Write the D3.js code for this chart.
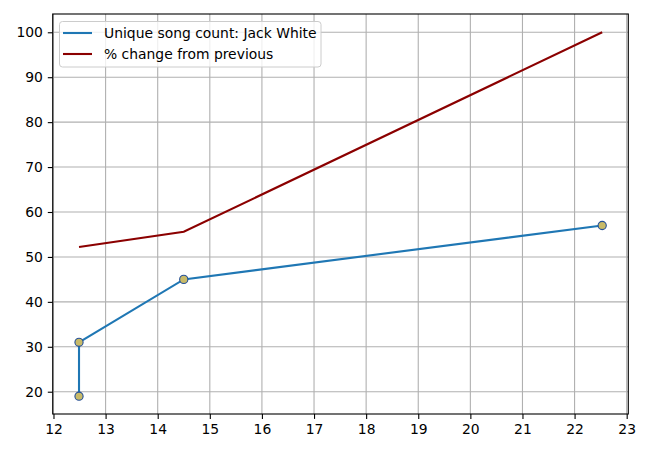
<!DOCTYPE html>
<html><head><meta charset="utf-8">
<script src="https://cdn.jsdelivr.net/npm/d3@7"></script>
<style>body{margin:0;background:#fff}svg{display:block;font-family:"DejaVu Sans",sans-serif}</style>
</head><body><svg id="c" width="650" height="450"></svg>
<script>
const songX = [12.49, 12.49, 14.5, 22.53];
const songY = [19, 31, 45, 57];
const changeX = [12.49, 14.5, 22.53];
const changeY = [52.2, 55.6, 100];
const xTicks = [12,13,14,15,16,17,18,19,20,21,22,23];
const yTicks = [20,30,40,50,60,70,80,90,100];
const labels = ["Unique song count: Jack White", "% change from previous"];

const L=52.7,R=628.3,T=14,B=414;
const FS=13.9;
const svg=d3.select("#c");
const x=d3.scaleLinear().domain([11.985,23.031]).range([L,R]);
const y=d3.scaleLinear().domain([15.04,104.07]).range([B,T]);

const g=svg.append("g");
g.selectAll(".gx").data(xTicks).join("line").attr("x1",d=>x(d)).attr("x2",d=>x(d)).attr("y1",T).attr("y2",B).attr("stroke","#b0b0b0").attr("stroke-width",1.1);
g.selectAll(".gy").data(yTicks).join("line").attr("y1",d=>y(d)).attr("y2",d=>y(d)).attr("x1",L).attr("x2",R).attr("stroke","#b0b0b0").attr("stroke-width",1.1);

const line=d3.line().x(d=>x(d[0])).y(d=>y(d[1]));
g.append("path").datum(songX.map((v,i)=>[v,songY[i]])).attr("d",line).attr("fill","none").attr("stroke","#1f77b4").attr("stroke-width",2.1);
g.append("path").datum(changeX.map((v,i)=>[v,changeY[i]])).attr("d",line).attr("fill","none").attr("stroke","#8b0000").attr("stroke-width",2.1);
g.selectAll(".pt").data(songX.map((v,i)=>[v,songY[i]])).join("circle").attr("cx",d=>x(d[0])).attr("cy",d=>y(d[1])).attr("r",4.1).attr("fill","#c8ba68").attr("stroke","#24509a").attr("stroke-width",1.1);

const xa=svg.append("g").attr("transform",`translate(0,${B})`).call(d3.axisBottom(x).tickValues(xTicks).tickSize(4.9).tickPadding(4.9).tickFormat(d3.format("d")));
const ya=svg.append("g").attr("transform",`translate(${L},0)`).call(d3.axisLeft(y).tickValues(yTicks).tickSize(4.9).tickPadding(4.9).tickFormat(d3.format("d")));
[xa,ya].forEach(a=>{a.select(".domain").remove();a.selectAll("text").attr("font-size",FS).attr("fill","#000").attr("font-family","DejaVu Sans");a.selectAll("line").attr("stroke","#000").attr("stroke-width",1.1);});
svg.append("rect").attr("x",L).attr("y",T).attr("width",R-L).attr("height",B-T).attr("fill","none").attr("stroke","#000").attr("stroke-width",1.1);

const lg=svg.append("g");
lg.append("rect").attr("x",59.5).attr("y",21.5).attr("width",261.5).attr("height",45.5).attr("rx",3).attr("fill","#fff").attr("fill-opacity",0.8).attr("stroke","#cccccc").attr("stroke-width",1);
const cols=["#1f77b4","#8b0000"];
labels.forEach((t,i)=>{
  const yy=33+i*21;
  lg.append("line").attr("x1",63).attr("x2",92).attr("y1",yy).attr("y2",yy).attr("stroke",cols[i]).attr("stroke-width",2.1);
  lg.append("text").attr("x",104).attr("y",yy).attr("dy","0.35em").attr("font-size",FS).text(t);
});
</script></body></html>
